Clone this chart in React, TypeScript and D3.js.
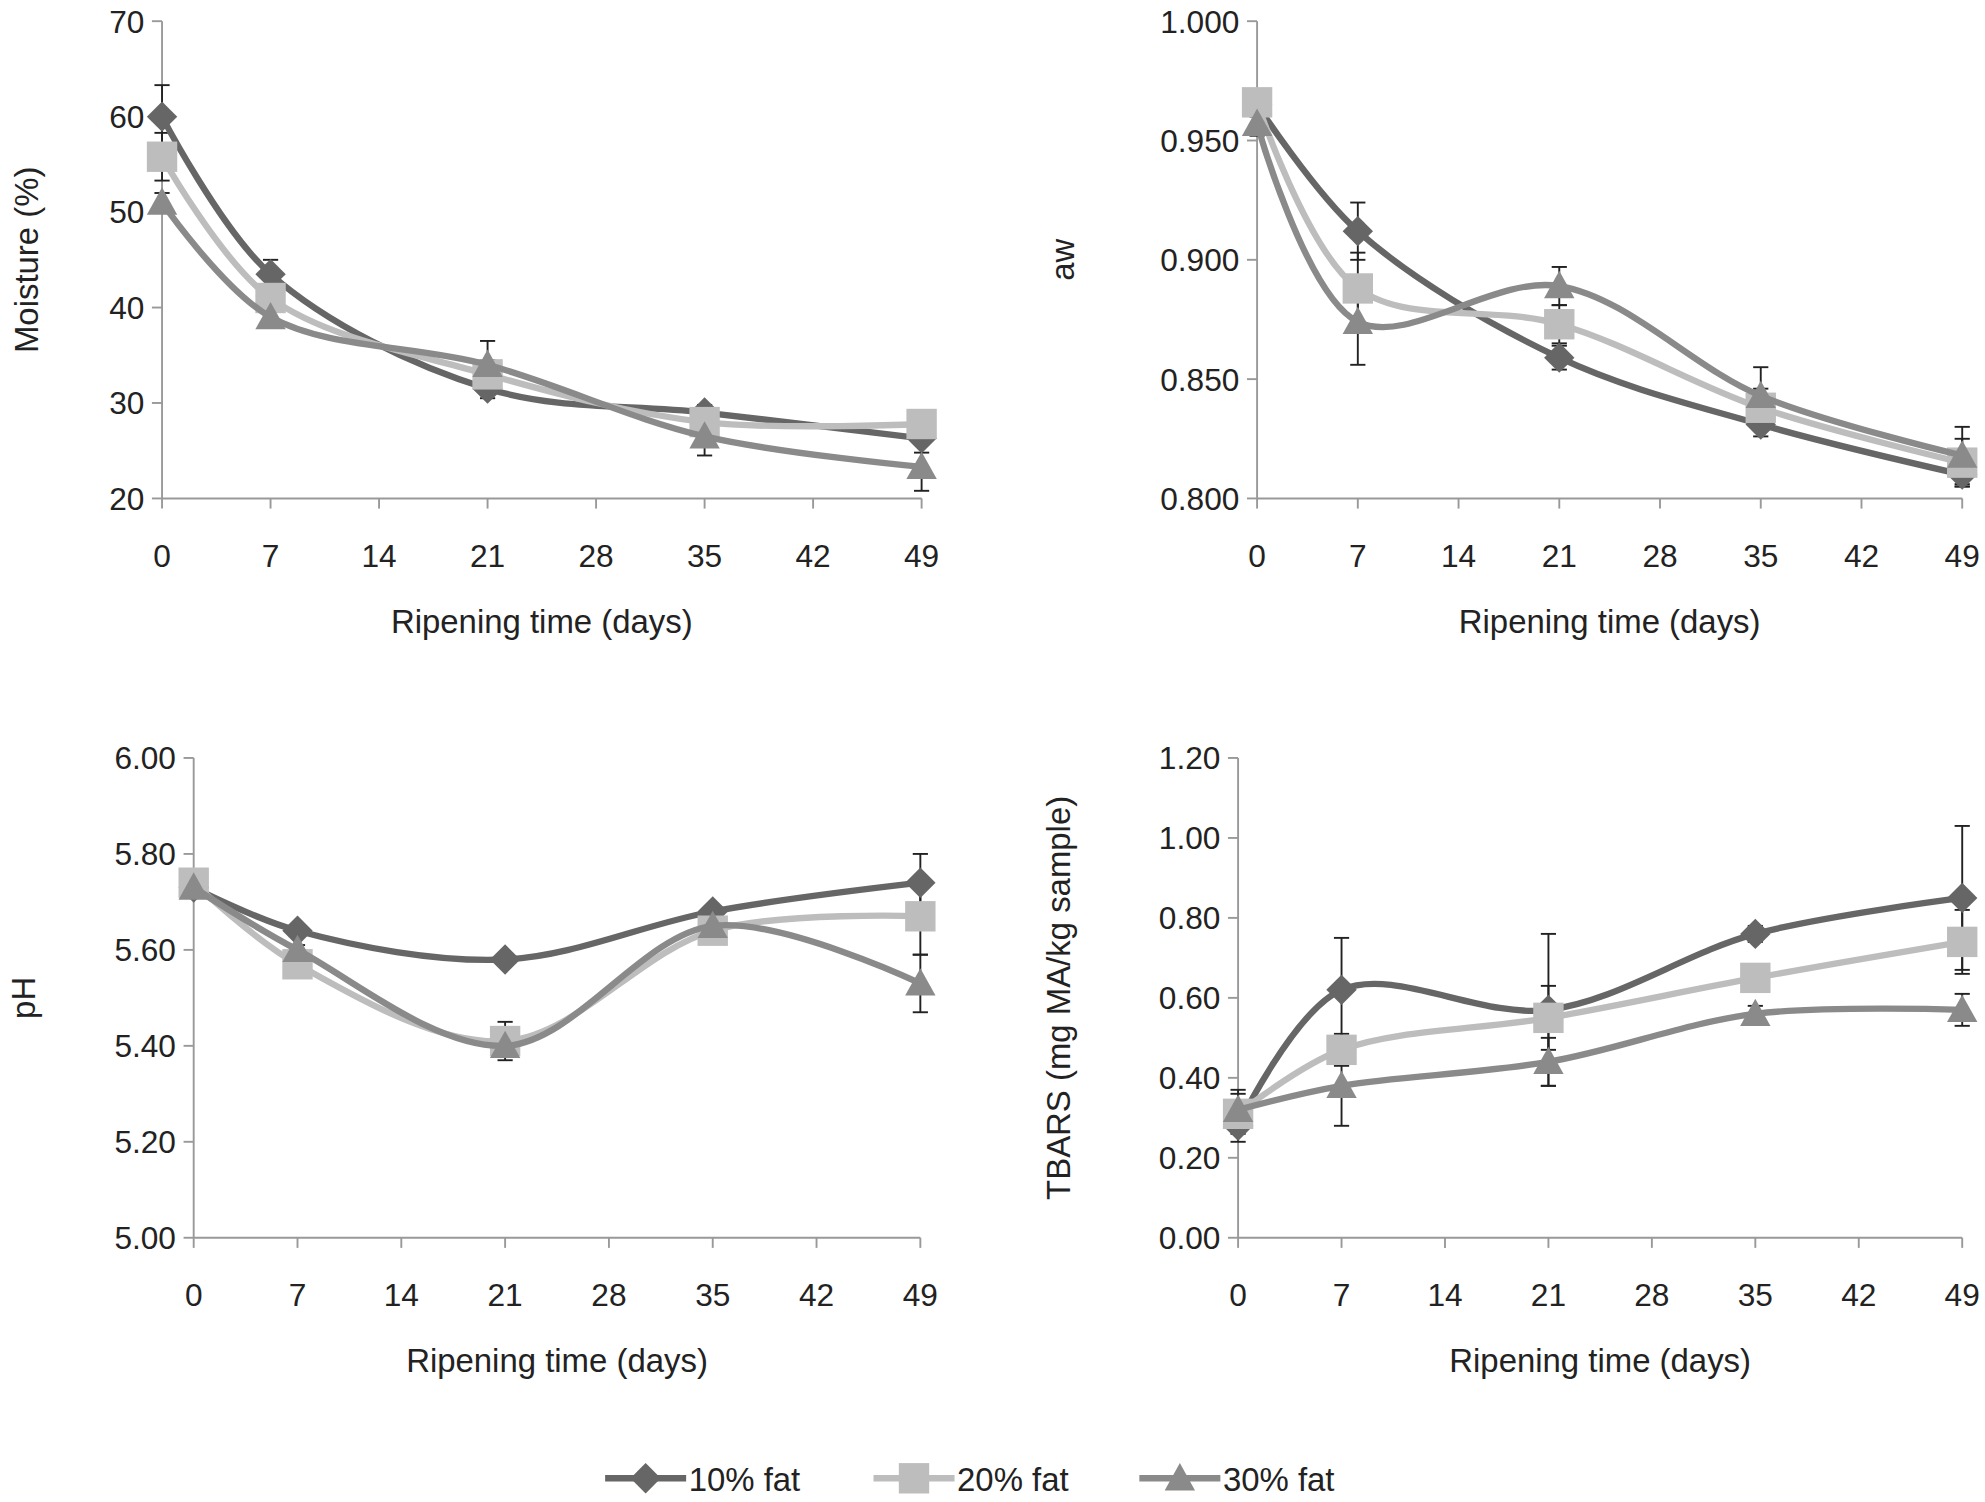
import React from 'react';
import * as d3 from 'd3';

const days = [0, 7, 21, 35, 49];
const xTicks = [0, 7, 14, 21, 28, 35, 42, 49];
const seriesNames = ['10% fat', '20% fat', '30% fat'];
const colors = ['#666666', '#bdbdbd', '#8a8a8a'];

const moisture = [[60, 43.5, 31.5, 29, 26.3], [55.8, 41, 33, 28, 27.8], [51, 39, 34, 26.5, 23.3]];
const moistureErr = [[3.3, 1.5, 1, 0.8, 1.5], [2.5, 1.2, 1.5, 1, 1], [1, 1, 2.5, 2, 2.5]];
const aw = [[0.965, 0.912, 0.859, 0.831, 0.810], [0.966, 0.888, 0.873, 0.838, 0.815], [0.957, 0.874, 0.889, 0.843, 0.818]];
const awErr = [[0.005, 0.012, 0.005, 0.005, 0.005], [0.005, 0.015, 0.008, 0.008, 0.01], [0.005, 0.018, 0.008, 0.012, 0.012]];
const ph = [[5.73, 5.64, 5.58, 5.68, 5.74], [5.74, 5.57, 5.41, 5.64, 5.67], [5.73, 5.60, 5.40, 5.65, 5.53]];
const phErr = [[0.01, 0.01, 0.01, 0.01, 0.06], [0.01, 0.01, 0.04, 0.01, 0.08], [0.01, 0.01, 0.02, 0.01, 0.06]];
const tbars = [[0.28, 0.62, 0.57, 0.76, 0.85], [0.31, 0.47, 0.55, 0.65, 0.74], [0.32, 0.38, 0.44, 0.56, 0.57]];
const tbarsErr = [[0.04, 0.13, 0.19, 0.02, 0.18], [0.05, 0.04, 0.08, 0.02, 0.08], [0.05, 0.1, 0.06, 0.02, 0.04]];

const font = '"Liberation Sans", Arial, sans-serif';

function Marker({ i, x, y, s = 12 }: any) {
  const c = colors[i];
  if (i === 0) return <path d={`M${x},${y - s} L${x + s},${y} L${x},${y + s} L${x - s},${y} Z`} fill={c} />;
  if (i === 1) return <rect x={x - s} y={y - s} width={2 * s} height={2 * s} fill={c} />;
  return <path d={`M${x},${y - s} L${x + s},${y + s * 0.8} L${x - s},${y + s * 0.8} Z`} fill={c} />;
}

function Panel({ x0, x1, yTop, yBot, domain, ticks, fmt, data, err, ylabel, ylabelX }: any) {
  const x = d3.scaleLinear().domain([0, 49]).range([x0, x1]);
  const y = d3.scaleLinear().domain(domain).range([yBot, yTop]);
  const line = d3.line<number>().x((_, k) => x(days[k])).y(d => y(d)).curve(d3.curveCatmullRom.alpha(0.5));
  return (
    <g fontFamily={font} fill="#222">
      <line x1={x0} x2={x0} y1={yTop} y2={yBot} stroke="#999" strokeWidth={1.5} />
      <line x1={x0} x2={x1} y1={yBot} y2={yBot} stroke="#999" strokeWidth={1.5} />
      {ticks.map((t: number) => (
        <g key={t}>
          <line x1={x0 - 8} x2={x0} y1={y(t)} y2={y(t)} stroke="#999" strokeWidth={1.5} />
          <text x={x0 - 14} y={y(t) + 9} textAnchor="end" fontSize={25}>{fmt(t)}</text>
        </g>
      ))}
      {xTicks.map(t => (
        <g key={t}>
          <line x1={x(t)} x2={x(t)} y1={yBot} y2={yBot + 8} stroke="#999" strokeWidth={1.5} />
          <text x={x(t)} y={yBot + 54} textAnchor="middle" fontSize={25}>{t}</text>
        </g>
      ))}
      <text x={(x0 + x1) / 2} y={yBot + 106} textAnchor="middle" fontSize={26}>Ripening time (days)</text>
      <text transform={`translate(${ylabelX},${(yTop + yBot) / 2}) rotate(-90)`} textAnchor="middle" fontSize={26}>{ylabel}</text>
      {data.map((s: number[], i: number) => (
        <g key={i}>
          {s.map((v, k) => (
            <g key={k} stroke="#222" strokeWidth={1.5}>
              <line x1={x(days[k])} x2={x(days[k])} y1={y(v - err[i][k])} y2={y(v + err[i][k])} />
              <line x1={x(days[k]) - 6} x2={x(days[k]) + 6} y1={y(v + err[i][k])} y2={y(v + err[i][k])} />
              <line x1={x(days[k]) - 6} x2={x(days[k]) + 6} y1={y(v - err[i][k])} y2={y(v - err[i][k])} />
            </g>
          ))}
        </g>
      ))}
      {data.map((s: number[], i: number) => (
        <g key={i}>
          <path d={line(s) || ''} fill="none" stroke={colors[i]} strokeWidth={5} />
          {s.map((v, k) => <Marker key={k} i={i} x={x(days[k])} y={y(v)} />)}
        </g>
      ))}
    </g>
  );
}

export default function App() {
  const legendX = [478, 690, 900];
  return (
    <svg width={1985} height={1502} viewBox="0 0 1568 1185" style={{ position: 'absolute', left: 0, top: 0, background: '#fff' }}>
      <Panel x0={128} x1={728} yTop={16} yBot={393} domain={[20, 70]} ticks={[20, 30, 40, 50, 60, 70]}
        fmt={(t: number) => String(t)} data={moisture} err={moistureErr} ylabel="Moisture (%)" ylabelX={30} />
      <Panel x0={993} x1={1550} yTop={16} yBot={393} domain={[0.8, 1]} ticks={[0.8, 0.85, 0.9, 0.95, 1]}
        fmt={(t: number) => t.toFixed(3)} data={aw} err={awErr} ylabel="aw" ylabelX={848} />
      <Panel x0={153} x1={727} yTop={598} yBot={977} domain={[5, 6]} ticks={[5, 5.2, 5.4, 5.6, 5.8, 6]}
        fmt={(t: number) => t.toFixed(2)} data={ph} err={phErr} ylabel="pH" ylabelX={28} />
      <Panel x0={978} x1={1550} yTop={598} yBot={977} domain={[0, 1.2]} ticks={[0, 0.2, 0.4, 0.6, 0.8, 1, 1.2]}
        fmt={(t: number) => t.toFixed(2)} data={tbars} err={tbarsErr} ylabel="TBARS (mg MA/kg sample)" ylabelX={845} />
      <g fontFamily={font}>
        {seriesNames.map((n, i) => (
          <g key={n}>
            <line x1={legendX[i]} x2={legendX[i] + 64} y1={1167} y2={1167} stroke={colors[i]} strokeWidth={5} />
            <Marker i={i} x={legendX[i] + 32} y={1167} />
            <text x={legendX[i] + 66} y={1177} fontSize={26} fill="#222">{n}</text>
          </g>
        ))}
      </g>
    </svg>
  );
}
